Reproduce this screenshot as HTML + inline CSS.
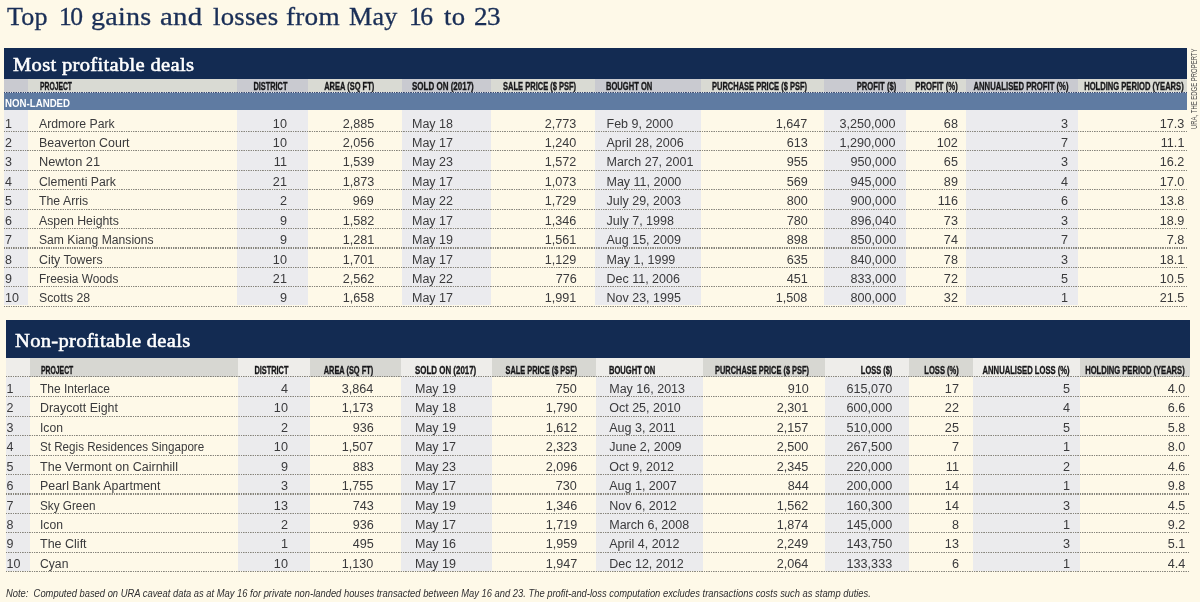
<!DOCTYPE html><html><head><meta charset="utf-8"><title>Top 10 gains and losses</title><style>
html,body{margin:0;padding:0}body{width:1200px;height:602px;position:relative;overflow:hidden;background:#fef9e8;font-family:"Liberation Sans",sans-serif}
.ttl{-webkit-text-stroke:0.3px #1a2f57}.bt{-webkit-text-stroke:0.55px #fff}.wrap{position:absolute;left:0;top:0;width:1200px;height:602px;will-change:transform}.hd{-webkit-text-stroke:0.35px #1b1b1d}.r{position:absolute}.t{position:absolute;white-space:pre;height:30px;}.st{display:inline-block;height:30px;width:0;vertical-align:baseline}
</style></head><body><div class="wrap">
<div class="t ttl" style="left:7.199999999999999px;top:-5.10px;font:normal normal 24.2px/1 'Liberation Serif',serif;color:#1a2f57;transform:scaleX(1.0772);transform-origin:left bottom;letter-spacing:0.2px;"><span class="st"></span>Top</div>
<div class="t ttl" style="left:58.6px;top:-5.10px;font:normal normal 24.2px/1 'Liberation Serif',serif;color:#1a2f57;transform:scaleX(1.0572);transform-origin:left bottom;letter-spacing:-1.5px;"><span class="st"></span>10</div>
<div class="t ttl" style="left:90.6px;top:-5.10px;font:normal normal 24.2px/1 'Liberation Serif',serif;color:#1a2f57;transform:scaleX(1.1582);transform-origin:left bottom;letter-spacing:0.2px;"><span class="st"></span>gains</div>
<div class="t ttl" style="left:159.5px;top:-5.10px;font:normal normal 24.2px/1 'Liberation Serif',serif;color:#1a2f57;transform:scaleX(1.1905);transform-origin:left bottom;letter-spacing:0.2px;"><span class="st"></span>and</div>
<div class="t ttl" style="left:213.0px;top:-5.10px;font:normal normal 24.2px/1 'Liberation Serif',serif;color:#1a2f57;transform:scaleX(1.1085);transform-origin:left bottom;letter-spacing:0.2px;"><span class="st"></span>losses</div>
<div class="t ttl" style="left:286.40000000000003px;top:-5.10px;font:normal normal 24.2px/1 'Liberation Serif',serif;color:#1a2f57;transform:scaleX(1.1249);transform-origin:left bottom;letter-spacing:0.2px;"><span class="st"></span>from</div>
<div class="t ttl" style="left:349.3px;top:-5.10px;font:normal normal 24.2px/1 'Liberation Serif',serif;color:#1a2f57;transform:scaleX(1.0771);transform-origin:left bottom;letter-spacing:0.2px;"><span class="st"></span>May</div>
<div class="t ttl" style="left:409.3px;top:-5.10px;font:normal normal 24.2px/1 'Liberation Serif',serif;color:#1a2f57;transform:scaleX(1.0572);transform-origin:left bottom;letter-spacing:-1.5px;"><span class="st"></span>16</div>
<div class="t ttl" style="left:443.6px;top:-5.10px;font:normal normal 24.2px/1 'Liberation Serif',serif;color:#1a2f57;transform:scaleX(1.1031);transform-origin:left bottom;letter-spacing:0.2px;"><span class="st"></span>to</div>
<div class="t ttl" style="left:473.90000000000003px;top:-5.10px;font:normal normal 24.2px/1 'Liberation Serif',serif;color:#1a2f57;transform:scaleX(1.1213);transform-origin:left bottom;letter-spacing:-0.5px;"><span class="st"></span>23</div>
<div class="r" style="left:4.00px;top:47.80px;width:1182.50px;height:30.80px;background:#132b52;"></div>
<div class="t bt" style="left:13.4px;top:40.50px;font:normal normal 19.6px/1 'Liberation Serif',serif;color:#ffffff;transform:scaleX(1.0491);transform-origin:left bottom;letter-spacing:0.3px;"><span class="st"></span>Most profitable deals</div>
<div class="r" style="left:4.00px;top:78.60px;width:1182.50px;height:14.20px;background:#d9dad3;"></div>
<div class="r" style="left:4.00px;top:78.60px;width:24.00px;height:14.20px;background:#c9cad0;"></div>
<div class="r" style="left:4.00px;top:109.60px;width:24.00px;height:195.48px;background:#ebebee;"></div>
<div class="r" style="left:237.00px;top:78.60px;width:71.30px;height:14.20px;background:#c9cad0;"></div>
<div class="r" style="left:237.00px;top:109.60px;width:71.30px;height:195.48px;background:#ebebee;"></div>
<div class="r" style="left:401.70px;top:78.60px;width:89.30px;height:14.20px;background:#c9cad0;"></div>
<div class="r" style="left:401.70px;top:109.60px;width:89.30px;height:195.48px;background:#ebebee;"></div>
<div class="r" style="left:595.00px;top:78.60px;width:106.00px;height:14.20px;background:#c9cad0;"></div>
<div class="r" style="left:595.00px;top:109.60px;width:106.00px;height:195.48px;background:#ebebee;"></div>
<div class="r" style="left:824.00px;top:78.60px;width:82.00px;height:14.20px;background:#c9cad0;"></div>
<div class="r" style="left:824.00px;top:109.60px;width:82.00px;height:195.48px;background:#ebebee;"></div>
<div class="r" style="left:965.50px;top:78.60px;width:112.50px;height:14.20px;background:#c9cad0;"></div>
<div class="r" style="left:965.50px;top:109.60px;width:112.50px;height:195.48px;background:#ebebee;"></div>
<div class="r" style="left:4.00px;top:92.80px;width:1182.50px;height:16.80px;background:#5f7ba2;"></div>
<div class="r" style="left:4.00px;top:92.10px;width:1182.50px;height:1.1px;background-color:#dfe3ea;background-image:repeating-linear-gradient(to right,#33436a 0,#33436a 0.9px,transparent 1.4px,transparent 1.95px,#33436a 2.35px);"></div>
<div class="t " style="left:4.8px;top:77.00px;font:normal bold 11px/1 'Liberation Sans',sans-serif;color:#ffffff;transform:scaleX(0.88);transform-origin:left bottom;"><span class="st"></span>NON-LANDED</div>
<div class="t hd" style="left:39.5px;top:59.80px;font:normal bold 10.5px/1 'Liberation Sans',sans-serif;color:#161618;transform:scaleX(0.6452);transform-origin:left bottom;"><span class="st"></span>PROJECT</div>
<div class="t hd" style="right:913px;top:59.80px;font:normal bold 10.5px/1 'Liberation Sans',sans-serif;color:#161618;transform:scaleX(0.7022);transform-origin:right bottom;"><span class="st"></span>DISTRICT</div>
<div class="t hd" style="right:826px;top:59.80px;font:normal bold 10.5px/1 'Liberation Sans',sans-serif;color:#161618;transform:scaleX(0.7122);transform-origin:right bottom;"><span class="st"></span>AREA (SQ FT)</div>
<div class="t hd" style="left:412px;top:59.80px;font:normal bold 10.5px/1 'Liberation Sans',sans-serif;color:#161618;transform:scaleX(0.7613);transform-origin:left bottom;"><span class="st"></span>SOLD ON (2017)</div>
<div class="t hd" style="right:623.5px;top:59.80px;font:normal bold 10.5px/1 'Liberation Sans',sans-serif;color:#161618;transform:scaleX(0.7149);transform-origin:right bottom;"><span class="st"></span>SALE PRICE ($ PSF)</div>
<div class="t hd" style="left:606px;top:59.80px;font:normal bold 10.5px/1 'Liberation Sans',sans-serif;color:#161618;transform:scaleX(0.7207);transform-origin:left bottom;"><span class="st"></span>BOUGHT ON</div>
<div class="t hd" style="right:392.5px;top:59.80px;font:normal bold 10.5px/1 'Liberation Sans',sans-serif;color:#161618;transform:scaleX(0.7141);transform-origin:right bottom;"><span class="st"></span>PURCHASE PRICE ($ PSF)</div>
<div class="t hd" style="right:304px;top:59.80px;font:normal bold 10.5px/1 'Liberation Sans',sans-serif;color:#161618;transform:scaleX(0.7281);transform-origin:right bottom;"><span class="st"></span>PROFIT ($)</div>
<div class="t hd" style="right:242px;top:59.80px;font:normal bold 10.5px/1 'Liberation Sans',sans-serif;color:#161618;transform:scaleX(0.7359);transform-origin:right bottom;"><span class="st"></span>PROFIT (%)</div>
<div class="t hd" style="right:132px;top:59.80px;font:normal bold 10.5px/1 'Liberation Sans',sans-serif;color:#161618;transform:scaleX(0.7336);transform-origin:right bottom;"><span class="st"></span>ANNUALISED PROFIT (%)</div>
<div class="t hd" style="right:16px;top:59.80px;font:normal bold 10.5px/1 'Liberation Sans',sans-serif;color:#161618;transform:scaleX(0.7227);transform-origin:right bottom;"><span class="st"></span>HOLDING PERIOD (YEARS)</div>
<div class="r" style="left:4.00px;top:130.90px;width:1182.50px;height:1.1px;background-color:transparent;background-image:repeating-linear-gradient(to right,#85837a 0,#85837a 0.9px,transparent 1.4px,transparent 1.95px,#85837a 2.35px);"></div>
<div class="t " style="left:5px;top:97.60px;font:normal normal 12.5px/1 'Liberation Sans',sans-serif;color:#3a3a3c;"><span class="st"></span>1</div>
<div class="t " style="left:38.7px;top:97.60px;font:normal normal 12.5px/1 'Liberation Sans',sans-serif;color:#3a3a3c;transform:scaleX(0.9817);transform-origin:left bottom;"><span class="st"></span>Ardmore Park</div>
<div class="t " style="right:913px;top:97.60px;font:normal normal 12.5px/1 'Liberation Sans',sans-serif;color:#3a3a3c;transform:scaleX(1.01);transform-origin:right bottom;"><span class="st"></span>10</div>
<div class="t " style="right:826px;top:97.60px;font:normal normal 12.5px/1 'Liberation Sans',sans-serif;color:#3a3a3c;transform:scaleX(1.01);transform-origin:right bottom;"><span class="st"></span>2,885</div>
<div class="t " style="left:412px;top:97.60px;font:normal normal 12.5px/1 'Liberation Sans',sans-serif;color:#3a3a3c;"><span class="st"></span>May 18</div>
<div class="t " style="right:623.5px;top:97.60px;font:normal normal 12.5px/1 'Liberation Sans',sans-serif;color:#3a3a3c;transform:scaleX(1.01);transform-origin:right bottom;"><span class="st"></span>2,773</div>
<div class="t " style="left:606.5px;top:97.60px;font:normal normal 12.5px/1 'Liberation Sans',sans-serif;color:#3a3a3c;"><span class="st"></span>Feb 9, 2000</div>
<div class="t " style="right:392.5px;top:97.60px;font:normal normal 12.5px/1 'Liberation Sans',sans-serif;color:#3a3a3c;transform:scaleX(1.01);transform-origin:right bottom;"><span class="st"></span>1,647</div>
<div class="t " style="right:304px;top:97.60px;font:normal normal 12.5px/1 'Liberation Sans',sans-serif;color:#3a3a3c;transform:scaleX(1.01);transform-origin:right bottom;"><span class="st"></span>3,250,000</div>
<div class="t " style="right:242px;top:97.60px;font:normal normal 12.5px/1 'Liberation Sans',sans-serif;color:#3a3a3c;transform:scaleX(1.01);transform-origin:right bottom;"><span class="st"></span>68</div>
<div class="t " style="right:132px;top:97.60px;font:normal normal 12.5px/1 'Liberation Sans',sans-serif;color:#3a3a3c;transform:scaleX(1.01);transform-origin:right bottom;"><span class="st"></span>3</div>
<div class="t " style="right:16px;top:97.60px;font:normal normal 12.5px/1 'Liberation Sans',sans-serif;color:#3a3a3c;transform:scaleX(1.01);transform-origin:right bottom;"><span class="st"></span>17.3</div>
<div class="r" style="left:4.00px;top:150.32px;width:1182.50px;height:1.1px;background-color:transparent;background-image:repeating-linear-gradient(to right,#85837a 0,#85837a 0.9px,transparent 1.4px,transparent 1.95px,#85837a 2.35px);"></div>
<div class="t " style="left:5px;top:117.02px;font:normal normal 12.5px/1 'Liberation Sans',sans-serif;color:#3a3a3c;"><span class="st"></span>2</div>
<div class="t " style="left:38.7px;top:117.02px;font:normal normal 12.5px/1 'Liberation Sans',sans-serif;color:#3a3a3c;transform:scaleX(0.9942);transform-origin:left bottom;"><span class="st"></span>Beaverton Court</div>
<div class="t " style="right:913px;top:117.02px;font:normal normal 12.5px/1 'Liberation Sans',sans-serif;color:#3a3a3c;transform:scaleX(1.01);transform-origin:right bottom;"><span class="st"></span>10</div>
<div class="t " style="right:826px;top:117.02px;font:normal normal 12.5px/1 'Liberation Sans',sans-serif;color:#3a3a3c;transform:scaleX(1.01);transform-origin:right bottom;"><span class="st"></span>2,056</div>
<div class="t " style="left:412px;top:117.02px;font:normal normal 12.5px/1 'Liberation Sans',sans-serif;color:#3a3a3c;"><span class="st"></span>May 17</div>
<div class="t " style="right:623.5px;top:117.02px;font:normal normal 12.5px/1 'Liberation Sans',sans-serif;color:#3a3a3c;transform:scaleX(1.01);transform-origin:right bottom;"><span class="st"></span>1,240</div>
<div class="t " style="left:606.5px;top:117.02px;font:normal normal 12.5px/1 'Liberation Sans',sans-serif;color:#3a3a3c;"><span class="st"></span>April 28, 2006</div>
<div class="t " style="right:392.5px;top:117.02px;font:normal normal 12.5px/1 'Liberation Sans',sans-serif;color:#3a3a3c;transform:scaleX(1.01);transform-origin:right bottom;"><span class="st"></span>613</div>
<div class="t " style="right:304px;top:117.02px;font:normal normal 12.5px/1 'Liberation Sans',sans-serif;color:#3a3a3c;transform:scaleX(1.01);transform-origin:right bottom;"><span class="st"></span>1,290,000</div>
<div class="t " style="right:242px;top:117.02px;font:normal normal 12.5px/1 'Liberation Sans',sans-serif;color:#3a3a3c;transform:scaleX(1.01);transform-origin:right bottom;"><span class="st"></span>102</div>
<div class="t " style="right:132px;top:117.02px;font:normal normal 12.5px/1 'Liberation Sans',sans-serif;color:#3a3a3c;transform:scaleX(1.01);transform-origin:right bottom;"><span class="st"></span>7</div>
<div class="t " style="right:16px;top:117.02px;font:normal normal 12.5px/1 'Liberation Sans',sans-serif;color:#3a3a3c;transform:scaleX(1.01);transform-origin:right bottom;"><span class="st"></span>11.1</div>
<div class="r" style="left:4.00px;top:169.74px;width:1182.50px;height:1.1px;background-color:transparent;background-image:repeating-linear-gradient(to right,#85837a 0,#85837a 0.9px,transparent 1.4px,transparent 1.95px,#85837a 2.35px);"></div>
<div class="t " style="left:5px;top:136.44px;font:normal normal 12.5px/1 'Liberation Sans',sans-serif;color:#3a3a3c;"><span class="st"></span>3</div>
<div class="t " style="left:38.7px;top:136.44px;font:normal normal 12.5px/1 'Liberation Sans',sans-serif;color:#3a3a3c;transform:scaleX(1.0207);transform-origin:left bottom;"><span class="st"></span>Newton 21</div>
<div class="t " style="right:913px;top:136.44px;font:normal normal 12.5px/1 'Liberation Sans',sans-serif;color:#3a3a3c;transform:scaleX(1.01);transform-origin:right bottom;"><span class="st"></span>11</div>
<div class="t " style="right:826px;top:136.44px;font:normal normal 12.5px/1 'Liberation Sans',sans-serif;color:#3a3a3c;transform:scaleX(1.01);transform-origin:right bottom;"><span class="st"></span>1,539</div>
<div class="t " style="left:412px;top:136.44px;font:normal normal 12.5px/1 'Liberation Sans',sans-serif;color:#3a3a3c;"><span class="st"></span>May 23</div>
<div class="t " style="right:623.5px;top:136.44px;font:normal normal 12.5px/1 'Liberation Sans',sans-serif;color:#3a3a3c;transform:scaleX(1.01);transform-origin:right bottom;"><span class="st"></span>1,572</div>
<div class="t " style="left:606.5px;top:136.44px;font:normal normal 12.5px/1 'Liberation Sans',sans-serif;color:#3a3a3c;"><span class="st"></span>March 27, 2001</div>
<div class="t " style="right:392.5px;top:136.44px;font:normal normal 12.5px/1 'Liberation Sans',sans-serif;color:#3a3a3c;transform:scaleX(1.01);transform-origin:right bottom;"><span class="st"></span>955</div>
<div class="t " style="right:304px;top:136.44px;font:normal normal 12.5px/1 'Liberation Sans',sans-serif;color:#3a3a3c;transform:scaleX(1.01);transform-origin:right bottom;"><span class="st"></span>950,000</div>
<div class="t " style="right:242px;top:136.44px;font:normal normal 12.5px/1 'Liberation Sans',sans-serif;color:#3a3a3c;transform:scaleX(1.01);transform-origin:right bottom;"><span class="st"></span>65</div>
<div class="t " style="right:132px;top:136.44px;font:normal normal 12.5px/1 'Liberation Sans',sans-serif;color:#3a3a3c;transform:scaleX(1.01);transform-origin:right bottom;"><span class="st"></span>3</div>
<div class="t " style="right:16px;top:136.44px;font:normal normal 12.5px/1 'Liberation Sans',sans-serif;color:#3a3a3c;transform:scaleX(1.01);transform-origin:right bottom;"><span class="st"></span>16.2</div>
<div class="r" style="left:4.00px;top:189.16px;width:1182.50px;height:1.1px;background-color:transparent;background-image:repeating-linear-gradient(to right,#85837a 0,#85837a 0.9px,transparent 1.4px,transparent 1.95px,#85837a 2.35px);"></div>
<div class="t " style="left:5px;top:155.86px;font:normal normal 12.5px/1 'Liberation Sans',sans-serif;color:#3a3a3c;"><span class="st"></span>4</div>
<div class="t " style="left:38.7px;top:155.86px;font:normal normal 12.5px/1 'Liberation Sans',sans-serif;color:#3a3a3c;transform:scaleX(0.9803);transform-origin:left bottom;"><span class="st"></span>Clementi Park</div>
<div class="t " style="right:913px;top:155.86px;font:normal normal 12.5px/1 'Liberation Sans',sans-serif;color:#3a3a3c;transform:scaleX(1.01);transform-origin:right bottom;"><span class="st"></span>21</div>
<div class="t " style="right:826px;top:155.86px;font:normal normal 12.5px/1 'Liberation Sans',sans-serif;color:#3a3a3c;transform:scaleX(1.01);transform-origin:right bottom;"><span class="st"></span>1,873</div>
<div class="t " style="left:412px;top:155.86px;font:normal normal 12.5px/1 'Liberation Sans',sans-serif;color:#3a3a3c;"><span class="st"></span>May 17</div>
<div class="t " style="right:623.5px;top:155.86px;font:normal normal 12.5px/1 'Liberation Sans',sans-serif;color:#3a3a3c;transform:scaleX(1.01);transform-origin:right bottom;"><span class="st"></span>1,073</div>
<div class="t " style="left:606.5px;top:155.86px;font:normal normal 12.5px/1 'Liberation Sans',sans-serif;color:#3a3a3c;"><span class="st"></span>May 11, 2000</div>
<div class="t " style="right:392.5px;top:155.86px;font:normal normal 12.5px/1 'Liberation Sans',sans-serif;color:#3a3a3c;transform:scaleX(1.01);transform-origin:right bottom;"><span class="st"></span>569</div>
<div class="t " style="right:304px;top:155.86px;font:normal normal 12.5px/1 'Liberation Sans',sans-serif;color:#3a3a3c;transform:scaleX(1.01);transform-origin:right bottom;"><span class="st"></span>945,000</div>
<div class="t " style="right:242px;top:155.86px;font:normal normal 12.5px/1 'Liberation Sans',sans-serif;color:#3a3a3c;transform:scaleX(1.01);transform-origin:right bottom;"><span class="st"></span>89</div>
<div class="t " style="right:132px;top:155.86px;font:normal normal 12.5px/1 'Liberation Sans',sans-serif;color:#3a3a3c;transform:scaleX(1.01);transform-origin:right bottom;"><span class="st"></span>4</div>
<div class="t " style="right:16px;top:155.86px;font:normal normal 12.5px/1 'Liberation Sans',sans-serif;color:#3a3a3c;transform:scaleX(1.01);transform-origin:right bottom;"><span class="st"></span>17.0</div>
<div class="r" style="left:4.00px;top:208.58px;width:1182.50px;height:1.1px;background-color:transparent;background-image:repeating-linear-gradient(to right,#85837a 0,#85837a 0.9px,transparent 1.4px,transparent 1.95px,#85837a 2.35px);"></div>
<div class="t " style="left:5px;top:175.28px;font:normal normal 12.5px/1 'Liberation Sans',sans-serif;color:#3a3a3c;"><span class="st"></span>5</div>
<div class="t " style="left:38.7px;top:175.28px;font:normal normal 12.5px/1 'Liberation Sans',sans-serif;color:#3a3a3c;transform:scaleX(0.9837);transform-origin:left bottom;"><span class="st"></span>The Arris</div>
<div class="t " style="right:913px;top:175.28px;font:normal normal 12.5px/1 'Liberation Sans',sans-serif;color:#3a3a3c;transform:scaleX(1.01);transform-origin:right bottom;"><span class="st"></span>2</div>
<div class="t " style="right:826px;top:175.28px;font:normal normal 12.5px/1 'Liberation Sans',sans-serif;color:#3a3a3c;transform:scaleX(1.01);transform-origin:right bottom;"><span class="st"></span>969</div>
<div class="t " style="left:412px;top:175.28px;font:normal normal 12.5px/1 'Liberation Sans',sans-serif;color:#3a3a3c;"><span class="st"></span>May 22</div>
<div class="t " style="right:623.5px;top:175.28px;font:normal normal 12.5px/1 'Liberation Sans',sans-serif;color:#3a3a3c;transform:scaleX(1.01);transform-origin:right bottom;"><span class="st"></span>1,729</div>
<div class="t " style="left:606.5px;top:175.28px;font:normal normal 12.5px/1 'Liberation Sans',sans-serif;color:#3a3a3c;"><span class="st"></span>July 29, 2003</div>
<div class="t " style="right:392.5px;top:175.28px;font:normal normal 12.5px/1 'Liberation Sans',sans-serif;color:#3a3a3c;transform:scaleX(1.01);transform-origin:right bottom;"><span class="st"></span>800</div>
<div class="t " style="right:304px;top:175.28px;font:normal normal 12.5px/1 'Liberation Sans',sans-serif;color:#3a3a3c;transform:scaleX(1.01);transform-origin:right bottom;"><span class="st"></span>900,000</div>
<div class="t " style="right:242px;top:175.28px;font:normal normal 12.5px/1 'Liberation Sans',sans-serif;color:#3a3a3c;transform:scaleX(1.01);transform-origin:right bottom;"><span class="st"></span>116</div>
<div class="t " style="right:132px;top:175.28px;font:normal normal 12.5px/1 'Liberation Sans',sans-serif;color:#3a3a3c;transform:scaleX(1.01);transform-origin:right bottom;"><span class="st"></span>6</div>
<div class="t " style="right:16px;top:175.28px;font:normal normal 12.5px/1 'Liberation Sans',sans-serif;color:#3a3a3c;transform:scaleX(1.01);transform-origin:right bottom;"><span class="st"></span>13.8</div>
<div class="r" style="left:4.00px;top:228.00px;width:1182.50px;height:1.1px;background-color:transparent;background-image:repeating-linear-gradient(to right,#85837a 0,#85837a 0.9px,transparent 1.4px,transparent 1.95px,#85837a 2.35px);"></div>
<div class="t " style="left:5px;top:194.70px;font:normal normal 12.5px/1 'Liberation Sans',sans-serif;color:#3a3a3c;"><span class="st"></span>6</div>
<div class="t " style="left:38.7px;top:194.70px;font:normal normal 12.5px/1 'Liberation Sans',sans-serif;color:#3a3a3c;transform:scaleX(0.9826);transform-origin:left bottom;"><span class="st"></span>Aspen Heights</div>
<div class="t " style="right:913px;top:194.70px;font:normal normal 12.5px/1 'Liberation Sans',sans-serif;color:#3a3a3c;transform:scaleX(1.01);transform-origin:right bottom;"><span class="st"></span>9</div>
<div class="t " style="right:826px;top:194.70px;font:normal normal 12.5px/1 'Liberation Sans',sans-serif;color:#3a3a3c;transform:scaleX(1.01);transform-origin:right bottom;"><span class="st"></span>1,582</div>
<div class="t " style="left:412px;top:194.70px;font:normal normal 12.5px/1 'Liberation Sans',sans-serif;color:#3a3a3c;"><span class="st"></span>May 17</div>
<div class="t " style="right:623.5px;top:194.70px;font:normal normal 12.5px/1 'Liberation Sans',sans-serif;color:#3a3a3c;transform:scaleX(1.01);transform-origin:right bottom;"><span class="st"></span>1,346</div>
<div class="t " style="left:606.5px;top:194.70px;font:normal normal 12.5px/1 'Liberation Sans',sans-serif;color:#3a3a3c;"><span class="st"></span>July 7, 1998</div>
<div class="t " style="right:392.5px;top:194.70px;font:normal normal 12.5px/1 'Liberation Sans',sans-serif;color:#3a3a3c;transform:scaleX(1.01);transform-origin:right bottom;"><span class="st"></span>780</div>
<div class="t " style="right:304px;top:194.70px;font:normal normal 12.5px/1 'Liberation Sans',sans-serif;color:#3a3a3c;transform:scaleX(1.01);transform-origin:right bottom;"><span class="st"></span>896,040</div>
<div class="t " style="right:242px;top:194.70px;font:normal normal 12.5px/1 'Liberation Sans',sans-serif;color:#3a3a3c;transform:scaleX(1.01);transform-origin:right bottom;"><span class="st"></span>73</div>
<div class="t " style="right:132px;top:194.70px;font:normal normal 12.5px/1 'Liberation Sans',sans-serif;color:#3a3a3c;transform:scaleX(1.01);transform-origin:right bottom;"><span class="st"></span>3</div>
<div class="t " style="right:16px;top:194.70px;font:normal normal 12.5px/1 'Liberation Sans',sans-serif;color:#3a3a3c;transform:scaleX(1.01);transform-origin:right bottom;"><span class="st"></span>18.9</div>
<div class="r" style="left:4.00px;top:247.42px;width:1182.50px;height:1.1px;background-color:transparent;background-image:repeating-linear-gradient(to right,#85837a 0,#85837a 0.9px,transparent 1.4px,transparent 1.95px,#85837a 2.35px);"></div>
<div class="t " style="left:5px;top:214.12px;font:normal normal 12.5px/1 'Liberation Sans',sans-serif;color:#3a3a3c;"><span class="st"></span>7</div>
<div class="t " style="left:38.7px;top:214.12px;font:normal normal 12.5px/1 'Liberation Sans',sans-serif;color:#3a3a3c;transform:scaleX(0.971);transform-origin:left bottom;"><span class="st"></span>Sam Kiang Mansions</div>
<div class="t " style="right:913px;top:214.12px;font:normal normal 12.5px/1 'Liberation Sans',sans-serif;color:#3a3a3c;transform:scaleX(1.01);transform-origin:right bottom;"><span class="st"></span>9</div>
<div class="t " style="right:826px;top:214.12px;font:normal normal 12.5px/1 'Liberation Sans',sans-serif;color:#3a3a3c;transform:scaleX(1.01);transform-origin:right bottom;"><span class="st"></span>1,281</div>
<div class="t " style="left:412px;top:214.12px;font:normal normal 12.5px/1 'Liberation Sans',sans-serif;color:#3a3a3c;"><span class="st"></span>May 19</div>
<div class="t " style="right:623.5px;top:214.12px;font:normal normal 12.5px/1 'Liberation Sans',sans-serif;color:#3a3a3c;transform:scaleX(1.01);transform-origin:right bottom;"><span class="st"></span>1,561</div>
<div class="t " style="left:606.5px;top:214.12px;font:normal normal 12.5px/1 'Liberation Sans',sans-serif;color:#3a3a3c;"><span class="st"></span>Aug 15, 2009</div>
<div class="t " style="right:392.5px;top:214.12px;font:normal normal 12.5px/1 'Liberation Sans',sans-serif;color:#3a3a3c;transform:scaleX(1.01);transform-origin:right bottom;"><span class="st"></span>898</div>
<div class="t " style="right:304px;top:214.12px;font:normal normal 12.5px/1 'Liberation Sans',sans-serif;color:#3a3a3c;transform:scaleX(1.01);transform-origin:right bottom;"><span class="st"></span>850,000</div>
<div class="t " style="right:242px;top:214.12px;font:normal normal 12.5px/1 'Liberation Sans',sans-serif;color:#3a3a3c;transform:scaleX(1.01);transform-origin:right bottom;"><span class="st"></span>74</div>
<div class="t " style="right:132px;top:214.12px;font:normal normal 12.5px/1 'Liberation Sans',sans-serif;color:#3a3a3c;transform:scaleX(1.01);transform-origin:right bottom;"><span class="st"></span>7</div>
<div class="t " style="right:16px;top:214.12px;font:normal normal 12.5px/1 'Liberation Sans',sans-serif;color:#3a3a3c;transform:scaleX(1.01);transform-origin:right bottom;"><span class="st"></span>7.8</div>
<div class="r" style="left:4.00px;top:266.84px;width:1182.50px;height:1.1px;background-color:transparent;background-image:repeating-linear-gradient(to right,#85837a 0,#85837a 0.9px,transparent 1.4px,transparent 1.95px,#85837a 2.35px);"></div>
<div class="t " style="left:5px;top:233.54px;font:normal normal 12.5px/1 'Liberation Sans',sans-serif;color:#3a3a3c;"><span class="st"></span>8</div>
<div class="t " style="left:38.7px;top:233.54px;font:normal normal 12.5px/1 'Liberation Sans',sans-serif;color:#3a3a3c;transform:scaleX(0.988);transform-origin:left bottom;"><span class="st"></span>City Towers</div>
<div class="t " style="right:913px;top:233.54px;font:normal normal 12.5px/1 'Liberation Sans',sans-serif;color:#3a3a3c;transform:scaleX(1.01);transform-origin:right bottom;"><span class="st"></span>10</div>
<div class="t " style="right:826px;top:233.54px;font:normal normal 12.5px/1 'Liberation Sans',sans-serif;color:#3a3a3c;transform:scaleX(1.01);transform-origin:right bottom;"><span class="st"></span>1,701</div>
<div class="t " style="left:412px;top:233.54px;font:normal normal 12.5px/1 'Liberation Sans',sans-serif;color:#3a3a3c;"><span class="st"></span>May 17</div>
<div class="t " style="right:623.5px;top:233.54px;font:normal normal 12.5px/1 'Liberation Sans',sans-serif;color:#3a3a3c;transform:scaleX(1.01);transform-origin:right bottom;"><span class="st"></span>1,129</div>
<div class="t " style="left:606.5px;top:233.54px;font:normal normal 12.5px/1 'Liberation Sans',sans-serif;color:#3a3a3c;"><span class="st"></span>May 1, 1999</div>
<div class="t " style="right:392.5px;top:233.54px;font:normal normal 12.5px/1 'Liberation Sans',sans-serif;color:#3a3a3c;transform:scaleX(1.01);transform-origin:right bottom;"><span class="st"></span>635</div>
<div class="t " style="right:304px;top:233.54px;font:normal normal 12.5px/1 'Liberation Sans',sans-serif;color:#3a3a3c;transform:scaleX(1.01);transform-origin:right bottom;"><span class="st"></span>840,000</div>
<div class="t " style="right:242px;top:233.54px;font:normal normal 12.5px/1 'Liberation Sans',sans-serif;color:#3a3a3c;transform:scaleX(1.01);transform-origin:right bottom;"><span class="st"></span>78</div>
<div class="t " style="right:132px;top:233.54px;font:normal normal 12.5px/1 'Liberation Sans',sans-serif;color:#3a3a3c;transform:scaleX(1.01);transform-origin:right bottom;"><span class="st"></span>3</div>
<div class="t " style="right:16px;top:233.54px;font:normal normal 12.5px/1 'Liberation Sans',sans-serif;color:#3a3a3c;transform:scaleX(1.01);transform-origin:right bottom;"><span class="st"></span>18.1</div>
<div class="r" style="left:4.00px;top:286.26px;width:1182.50px;height:1.1px;background-color:transparent;background-image:repeating-linear-gradient(to right,#85837a 0,#85837a 0.9px,transparent 1.4px,transparent 1.95px,#85837a 2.35px);"></div>
<div class="t " style="left:5px;top:252.96px;font:normal normal 12.5px/1 'Liberation Sans',sans-serif;color:#3a3a3c;"><span class="st"></span>9</div>
<div class="t " style="left:38.7px;top:252.96px;font:normal normal 12.5px/1 'Liberation Sans',sans-serif;color:#3a3a3c;transform:scaleX(0.9458);transform-origin:left bottom;"><span class="st"></span>Freesia Woods</div>
<div class="t " style="right:913px;top:252.96px;font:normal normal 12.5px/1 'Liberation Sans',sans-serif;color:#3a3a3c;transform:scaleX(1.01);transform-origin:right bottom;"><span class="st"></span>21</div>
<div class="t " style="right:826px;top:252.96px;font:normal normal 12.5px/1 'Liberation Sans',sans-serif;color:#3a3a3c;transform:scaleX(1.01);transform-origin:right bottom;"><span class="st"></span>2,562</div>
<div class="t " style="left:412px;top:252.96px;font:normal normal 12.5px/1 'Liberation Sans',sans-serif;color:#3a3a3c;"><span class="st"></span>May 22</div>
<div class="t " style="right:623.5px;top:252.96px;font:normal normal 12.5px/1 'Liberation Sans',sans-serif;color:#3a3a3c;transform:scaleX(1.01);transform-origin:right bottom;"><span class="st"></span>776</div>
<div class="t " style="left:606.5px;top:252.96px;font:normal normal 12.5px/1 'Liberation Sans',sans-serif;color:#3a3a3c;"><span class="st"></span>Dec 11, 2006</div>
<div class="t " style="right:392.5px;top:252.96px;font:normal normal 12.5px/1 'Liberation Sans',sans-serif;color:#3a3a3c;transform:scaleX(1.01);transform-origin:right bottom;"><span class="st"></span>451</div>
<div class="t " style="right:304px;top:252.96px;font:normal normal 12.5px/1 'Liberation Sans',sans-serif;color:#3a3a3c;transform:scaleX(1.01);transform-origin:right bottom;"><span class="st"></span>833,000</div>
<div class="t " style="right:242px;top:252.96px;font:normal normal 12.5px/1 'Liberation Sans',sans-serif;color:#3a3a3c;transform:scaleX(1.01);transform-origin:right bottom;"><span class="st"></span>72</div>
<div class="t " style="right:132px;top:252.96px;font:normal normal 12.5px/1 'Liberation Sans',sans-serif;color:#3a3a3c;transform:scaleX(1.01);transform-origin:right bottom;"><span class="st"></span>5</div>
<div class="t " style="right:16px;top:252.96px;font:normal normal 12.5px/1 'Liberation Sans',sans-serif;color:#3a3a3c;transform:scaleX(1.01);transform-origin:right bottom;"><span class="st"></span>10.5</div>
<div class="r" style="left:4.00px;top:305.68px;width:1182.50px;height:1.1px;background-color:transparent;background-image:repeating-linear-gradient(to right,#85837a 0,#85837a 0.9px,transparent 1.4px,transparent 1.95px,#85837a 2.35px);"></div>
<div class="t " style="left:5px;top:272.38px;font:normal normal 12.5px/1 'Liberation Sans',sans-serif;color:#3a3a3c;"><span class="st"></span>10</div>
<div class="t " style="left:38.7px;top:272.38px;font:normal normal 12.5px/1 'Liberation Sans',sans-serif;color:#3a3a3c;transform:scaleX(0.9823);transform-origin:left bottom;"><span class="st"></span>Scotts 28</div>
<div class="t " style="right:913px;top:272.38px;font:normal normal 12.5px/1 'Liberation Sans',sans-serif;color:#3a3a3c;transform:scaleX(1.01);transform-origin:right bottom;"><span class="st"></span>9</div>
<div class="t " style="right:826px;top:272.38px;font:normal normal 12.5px/1 'Liberation Sans',sans-serif;color:#3a3a3c;transform:scaleX(1.01);transform-origin:right bottom;"><span class="st"></span>1,658</div>
<div class="t " style="left:412px;top:272.38px;font:normal normal 12.5px/1 'Liberation Sans',sans-serif;color:#3a3a3c;"><span class="st"></span>May 17</div>
<div class="t " style="right:623.5px;top:272.38px;font:normal normal 12.5px/1 'Liberation Sans',sans-serif;color:#3a3a3c;transform:scaleX(1.01);transform-origin:right bottom;"><span class="st"></span>1,991</div>
<div class="t " style="left:606.5px;top:272.38px;font:normal normal 12.5px/1 'Liberation Sans',sans-serif;color:#3a3a3c;"><span class="st"></span>Nov 23, 1995</div>
<div class="t " style="right:392.5px;top:272.38px;font:normal normal 12.5px/1 'Liberation Sans',sans-serif;color:#3a3a3c;transform:scaleX(1.01);transform-origin:right bottom;"><span class="st"></span>1,508</div>
<div class="t " style="right:304px;top:272.38px;font:normal normal 12.5px/1 'Liberation Sans',sans-serif;color:#3a3a3c;transform:scaleX(1.01);transform-origin:right bottom;"><span class="st"></span>800,000</div>
<div class="t " style="right:242px;top:272.38px;font:normal normal 12.5px/1 'Liberation Sans',sans-serif;color:#3a3a3c;transform:scaleX(1.01);transform-origin:right bottom;"><span class="st"></span>32</div>
<div class="t " style="right:132px;top:272.38px;font:normal normal 12.5px/1 'Liberation Sans',sans-serif;color:#3a3a3c;transform:scaleX(1.01);transform-origin:right bottom;"><span class="st"></span>1</div>
<div class="t " style="right:16px;top:272.38px;font:normal normal 12.5px/1 'Liberation Sans',sans-serif;color:#3a3a3c;transform:scaleX(1.01);transform-origin:right bottom;"><span class="st"></span>21.5</div>
<div class="t" style="left:1196.8px;top:99px;font:normal 8.5px/1 'Liberation Sans',sans-serif;color:#4a4a4a;transform:rotate(-90deg) scaleX(0.70);transform-origin:left bottom;"><span class="st"></span>URA, THE EDGE PROPERTY</div>
<div class="r" style="left:5.50px;top:320.20px;width:1184.30px;height:38.20px;background:#132b52;"></div>
<div class="t bt" style="left:15.2px;top:316.80px;font:normal normal 19.6px/1 'Liberation Serif',serif;color:#ffffff;transform:scaleX(1.0472);transform-origin:left bottom;letter-spacing:0.3px;"><span class="st"></span>Non-profitable deals</div>
<div class="r" style="left:5.50px;top:358.40px;width:1184.30px;height:18.40px;background:#d7d7d2;"></div>
<div class="r" style="left:5.50px;top:357.90px;width:24.00px;height:18.90px;background:#eeedea;"></div>
<div class="r" style="left:5.50px;top:376.80px;width:24.00px;height:194.01px;background:#ebebed;"></div>
<div class="r" style="left:238.00px;top:357.90px;width:72.00px;height:18.90px;background:#eeedea;"></div>
<div class="r" style="left:238.00px;top:376.80px;width:72.00px;height:194.01px;background:#ebebed;"></div>
<div class="r" style="left:401.30px;top:357.90px;width:90.70px;height:18.90px;background:#eeedea;"></div>
<div class="r" style="left:401.30px;top:376.80px;width:90.70px;height:194.01px;background:#ebebed;"></div>
<div class="r" style="left:595.50px;top:357.90px;width:107.00px;height:18.90px;background:#eeedea;"></div>
<div class="r" style="left:595.50px;top:376.80px;width:107.00px;height:194.01px;background:#ebebed;"></div>
<div class="r" style="left:825.00px;top:357.90px;width:83.75px;height:18.90px;background:#eeedea;"></div>
<div class="r" style="left:825.00px;top:376.80px;width:83.75px;height:194.01px;background:#ebebed;"></div>
<div class="r" style="left:973.00px;top:357.90px;width:106.50px;height:18.90px;background:#eeedea;"></div>
<div class="r" style="left:973.00px;top:376.80px;width:106.50px;height:194.01px;background:#ebebed;"></div>
<div class="r" style="left:5.50px;top:376.20px;width:1184.30px;height:1.1px;background-color:transparent;background-image:repeating-linear-gradient(to right,#85837a 0,#85837a 0.9px,transparent 1.4px,transparent 1.95px,#85837a 2.35px);"></div>
<div class="t hd" style="left:40.75px;top:343.70px;font:normal bold 10.5px/1 'Liberation Sans',sans-serif;color:#161618;transform:scaleX(0.6503);transform-origin:left bottom;"><span class="st"></span>PROJECT</div>
<div class="t hd" style="right:912px;top:343.70px;font:normal bold 10.5px/1 'Liberation Sans',sans-serif;color:#161618;transform:scaleX(0.7022);transform-origin:right bottom;"><span class="st"></span>DISTRICT</div>
<div class="t hd" style="right:826.5px;top:343.70px;font:normal bold 10.5px/1 'Liberation Sans',sans-serif;color:#161618;transform:scaleX(0.7051);transform-origin:right bottom;"><span class="st"></span>AREA (SQ FT)</div>
<div class="t hd" style="left:415px;top:343.70px;font:normal bold 10.5px/1 'Liberation Sans',sans-serif;color:#161618;transform:scaleX(0.7552);transform-origin:left bottom;"><span class="st"></span>SOLD ON (2017)</div>
<div class="t hd" style="right:623px;top:343.70px;font:normal bold 10.5px/1 'Liberation Sans',sans-serif;color:#161618;transform:scaleX(0.7002);transform-origin:right bottom;"><span class="st"></span>SALE PRICE ($ PSF)</div>
<div class="t hd" style="left:608.75px;top:343.70px;font:normal bold 10.5px/1 'Liberation Sans',sans-serif;color:#161618;transform:scaleX(0.7207);transform-origin:left bottom;"><span class="st"></span>BOUGHT ON</div>
<div class="t hd" style="right:391.25px;top:343.70px;font:normal bold 10.5px/1 'Liberation Sans',sans-serif;color:#161618;transform:scaleX(0.7066);transform-origin:right bottom;"><span class="st"></span>PURCHASE PRICE ($ PSF)</div>
<div class="t hd" style="right:307.5px;top:343.70px;font:normal bold 10.5px/1 'Liberation Sans',sans-serif;color:#161618;transform:scaleX(0.7104);transform-origin:right bottom;"><span class="st"></span>LOSS ($)</div>
<div class="t hd" style="right:241.5px;top:343.70px;font:normal bold 10.5px/1 'Liberation Sans',sans-serif;color:#161618;transform:scaleX(0.7211);transform-origin:right bottom;"><span class="st"></span>LOSS (%)</div>
<div class="t hd" style="right:130px;top:343.70px;font:normal bold 10.5px/1 'Liberation Sans',sans-serif;color:#161618;transform:scaleX(0.7275);transform-origin:right bottom;"><span class="st"></span>ANNUALISED LOSS (%)</div>
<div class="t hd" style="right:15px;top:343.70px;font:normal bold 10.5px/1 'Liberation Sans',sans-serif;color:#161618;transform:scaleX(0.7227);transform-origin:right bottom;"><span class="st"></span>HOLDING PERIOD (YEARS)</div>
<div class="r" style="left:5.50px;top:396.25px;width:1184.30px;height:1.1px;background-color:transparent;background-image:repeating-linear-gradient(to right,#85837a 0,#85837a 0.9px,transparent 1.4px,transparent 1.95px,#85837a 2.35px);"></div>
<div class="t " style="left:6.5px;top:362.90px;font:normal normal 12.5px/1 'Liberation Sans',sans-serif;color:#3a3a3c;"><span class="st"></span>1</div>
<div class="t " style="left:39.95px;top:362.90px;font:normal normal 12.5px/1 'Liberation Sans',sans-serif;color:#3a3a3c;transform:scaleX(0.9586);transform-origin:left bottom;"><span class="st"></span>The Interlace</div>
<div class="t " style="right:912px;top:362.90px;font:normal normal 12.5px/1 'Liberation Sans',sans-serif;color:#3a3a3c;transform:scaleX(1.01);transform-origin:right bottom;"><span class="st"></span>4</div>
<div class="t " style="right:826.5px;top:362.90px;font:normal normal 12.5px/1 'Liberation Sans',sans-serif;color:#3a3a3c;transform:scaleX(1.01);transform-origin:right bottom;"><span class="st"></span>3,864</div>
<div class="t " style="left:415px;top:362.90px;font:normal normal 12.5px/1 'Liberation Sans',sans-serif;color:#3a3a3c;"><span class="st"></span>May 19</div>
<div class="t " style="right:623px;top:362.90px;font:normal normal 12.5px/1 'Liberation Sans',sans-serif;color:#3a3a3c;transform:scaleX(1.01);transform-origin:right bottom;"><span class="st"></span>750</div>
<div class="t " style="left:609.25px;top:362.90px;font:normal normal 12.5px/1 'Liberation Sans',sans-serif;color:#3a3a3c;"><span class="st"></span>May 16, 2013</div>
<div class="t " style="right:391.25px;top:362.90px;font:normal normal 12.5px/1 'Liberation Sans',sans-serif;color:#3a3a3c;transform:scaleX(1.01);transform-origin:right bottom;"><span class="st"></span>910</div>
<div class="t " style="right:307.5px;top:362.90px;font:normal normal 12.5px/1 'Liberation Sans',sans-serif;color:#3a3a3c;transform:scaleX(1.01);transform-origin:right bottom;"><span class="st"></span>615,070</div>
<div class="t " style="right:241.5px;top:362.90px;font:normal normal 12.5px/1 'Liberation Sans',sans-serif;color:#3a3a3c;transform:scaleX(1.01);transform-origin:right bottom;"><span class="st"></span>17</div>
<div class="t " style="right:130px;top:362.90px;font:normal normal 12.5px/1 'Liberation Sans',sans-serif;color:#3a3a3c;transform:scaleX(1.01);transform-origin:right bottom;"><span class="st"></span>5</div>
<div class="t " style="right:15px;top:362.90px;font:normal normal 12.5px/1 'Liberation Sans',sans-serif;color:#3a3a3c;transform:scaleX(1.01);transform-origin:right bottom;"><span class="st"></span>4.0</div>
<div class="r" style="left:5.50px;top:415.69px;width:1184.30px;height:1.1px;background-color:transparent;background-image:repeating-linear-gradient(to right,#85837a 0,#85837a 0.9px,transparent 1.4px,transparent 1.95px,#85837a 2.35px);"></div>
<div class="t " style="left:6.5px;top:382.34px;font:normal normal 12.5px/1 'Liberation Sans',sans-serif;color:#3a3a3c;"><span class="st"></span>2</div>
<div class="t " style="left:39.95px;top:382.34px;font:normal normal 12.5px/1 'Liberation Sans',sans-serif;color:#3a3a3c;transform:scaleX(0.9928);transform-origin:left bottom;"><span class="st"></span>Draycott Eight</div>
<div class="t " style="right:912px;top:382.34px;font:normal normal 12.5px/1 'Liberation Sans',sans-serif;color:#3a3a3c;transform:scaleX(1.01);transform-origin:right bottom;"><span class="st"></span>10</div>
<div class="t " style="right:826.5px;top:382.34px;font:normal normal 12.5px/1 'Liberation Sans',sans-serif;color:#3a3a3c;transform:scaleX(1.01);transform-origin:right bottom;"><span class="st"></span>1,173</div>
<div class="t " style="left:415px;top:382.34px;font:normal normal 12.5px/1 'Liberation Sans',sans-serif;color:#3a3a3c;"><span class="st"></span>May 18</div>
<div class="t " style="right:623px;top:382.34px;font:normal normal 12.5px/1 'Liberation Sans',sans-serif;color:#3a3a3c;transform:scaleX(1.01);transform-origin:right bottom;"><span class="st"></span>1,790</div>
<div class="t " style="left:609.25px;top:382.34px;font:normal normal 12.5px/1 'Liberation Sans',sans-serif;color:#3a3a3c;"><span class="st"></span>Oct 25, 2010</div>
<div class="t " style="right:391.25px;top:382.34px;font:normal normal 12.5px/1 'Liberation Sans',sans-serif;color:#3a3a3c;transform:scaleX(1.01);transform-origin:right bottom;"><span class="st"></span>2,301</div>
<div class="t " style="right:307.5px;top:382.34px;font:normal normal 12.5px/1 'Liberation Sans',sans-serif;color:#3a3a3c;transform:scaleX(1.01);transform-origin:right bottom;"><span class="st"></span>600,000</div>
<div class="t " style="right:241.5px;top:382.34px;font:normal normal 12.5px/1 'Liberation Sans',sans-serif;color:#3a3a3c;transform:scaleX(1.01);transform-origin:right bottom;"><span class="st"></span>22</div>
<div class="t " style="right:130px;top:382.34px;font:normal normal 12.5px/1 'Liberation Sans',sans-serif;color:#3a3a3c;transform:scaleX(1.01);transform-origin:right bottom;"><span class="st"></span>4</div>
<div class="t " style="right:15px;top:382.34px;font:normal normal 12.5px/1 'Liberation Sans',sans-serif;color:#3a3a3c;transform:scaleX(1.01);transform-origin:right bottom;"><span class="st"></span>6.6</div>
<div class="r" style="left:5.50px;top:435.13px;width:1184.30px;height:1.1px;background-color:transparent;background-image:repeating-linear-gradient(to right,#85837a 0,#85837a 0.9px,transparent 1.4px,transparent 1.95px,#85837a 2.35px);"></div>
<div class="t " style="left:6.5px;top:401.78px;font:normal normal 12.5px/1 'Liberation Sans',sans-serif;color:#3a3a3c;"><span class="st"></span>3</div>
<div class="t " style="left:39.95px;top:401.78px;font:normal normal 12.5px/1 'Liberation Sans',sans-serif;color:#3a3a3c;transform:scaleX(0.9708);transform-origin:left bottom;"><span class="st"></span>Icon</div>
<div class="t " style="right:912px;top:401.78px;font:normal normal 12.5px/1 'Liberation Sans',sans-serif;color:#3a3a3c;transform:scaleX(1.01);transform-origin:right bottom;"><span class="st"></span>2</div>
<div class="t " style="right:826.5px;top:401.78px;font:normal normal 12.5px/1 'Liberation Sans',sans-serif;color:#3a3a3c;transform:scaleX(1.01);transform-origin:right bottom;"><span class="st"></span>936</div>
<div class="t " style="left:415px;top:401.78px;font:normal normal 12.5px/1 'Liberation Sans',sans-serif;color:#3a3a3c;"><span class="st"></span>May 19</div>
<div class="t " style="right:623px;top:401.78px;font:normal normal 12.5px/1 'Liberation Sans',sans-serif;color:#3a3a3c;transform:scaleX(1.01);transform-origin:right bottom;"><span class="st"></span>1,612</div>
<div class="t " style="left:609.25px;top:401.78px;font:normal normal 12.5px/1 'Liberation Sans',sans-serif;color:#3a3a3c;"><span class="st"></span>Aug 3, 2011</div>
<div class="t " style="right:391.25px;top:401.78px;font:normal normal 12.5px/1 'Liberation Sans',sans-serif;color:#3a3a3c;transform:scaleX(1.01);transform-origin:right bottom;"><span class="st"></span>2,157</div>
<div class="t " style="right:307.5px;top:401.78px;font:normal normal 12.5px/1 'Liberation Sans',sans-serif;color:#3a3a3c;transform:scaleX(1.01);transform-origin:right bottom;"><span class="st"></span>510,000</div>
<div class="t " style="right:241.5px;top:401.78px;font:normal normal 12.5px/1 'Liberation Sans',sans-serif;color:#3a3a3c;transform:scaleX(1.01);transform-origin:right bottom;"><span class="st"></span>25</div>
<div class="t " style="right:130px;top:401.78px;font:normal normal 12.5px/1 'Liberation Sans',sans-serif;color:#3a3a3c;transform:scaleX(1.01);transform-origin:right bottom;"><span class="st"></span>5</div>
<div class="t " style="right:15px;top:401.78px;font:normal normal 12.5px/1 'Liberation Sans',sans-serif;color:#3a3a3c;transform:scaleX(1.01);transform-origin:right bottom;"><span class="st"></span>5.8</div>
<div class="r" style="left:5.50px;top:454.57px;width:1184.30px;height:1.1px;background-color:transparent;background-image:repeating-linear-gradient(to right,#85837a 0,#85837a 0.9px,transparent 1.4px,transparent 1.95px,#85837a 2.35px);"></div>
<div class="t " style="left:6.5px;top:421.22px;font:normal normal 12.5px/1 'Liberation Sans',sans-serif;color:#3a3a3c;"><span class="st"></span>4</div>
<div class="t " style="left:39.95px;top:421.22px;font:normal normal 12.5px/1 'Liberation Sans',sans-serif;color:#3a3a3c;transform:scaleX(0.9303);transform-origin:left bottom;"><span class="st"></span>St Regis Residences Singapore</div>
<div class="t " style="right:912px;top:421.22px;font:normal normal 12.5px/1 'Liberation Sans',sans-serif;color:#3a3a3c;transform:scaleX(1.01);transform-origin:right bottom;"><span class="st"></span>10</div>
<div class="t " style="right:826.5px;top:421.22px;font:normal normal 12.5px/1 'Liberation Sans',sans-serif;color:#3a3a3c;transform:scaleX(1.01);transform-origin:right bottom;"><span class="st"></span>1,507</div>
<div class="t " style="left:415px;top:421.22px;font:normal normal 12.5px/1 'Liberation Sans',sans-serif;color:#3a3a3c;"><span class="st"></span>May 17</div>
<div class="t " style="right:623px;top:421.22px;font:normal normal 12.5px/1 'Liberation Sans',sans-serif;color:#3a3a3c;transform:scaleX(1.01);transform-origin:right bottom;"><span class="st"></span>2,323</div>
<div class="t " style="left:609.25px;top:421.22px;font:normal normal 12.5px/1 'Liberation Sans',sans-serif;color:#3a3a3c;"><span class="st"></span>June 2, 2009</div>
<div class="t " style="right:391.25px;top:421.22px;font:normal normal 12.5px/1 'Liberation Sans',sans-serif;color:#3a3a3c;transform:scaleX(1.01);transform-origin:right bottom;"><span class="st"></span>2,500</div>
<div class="t " style="right:307.5px;top:421.22px;font:normal normal 12.5px/1 'Liberation Sans',sans-serif;color:#3a3a3c;transform:scaleX(1.01);transform-origin:right bottom;"><span class="st"></span>267,500</div>
<div class="t " style="right:241.5px;top:421.22px;font:normal normal 12.5px/1 'Liberation Sans',sans-serif;color:#3a3a3c;transform:scaleX(1.01);transform-origin:right bottom;"><span class="st"></span>7</div>
<div class="t " style="right:130px;top:421.22px;font:normal normal 12.5px/1 'Liberation Sans',sans-serif;color:#3a3a3c;transform:scaleX(1.01);transform-origin:right bottom;"><span class="st"></span>1</div>
<div class="t " style="right:15px;top:421.22px;font:normal normal 12.5px/1 'Liberation Sans',sans-serif;color:#3a3a3c;transform:scaleX(1.01);transform-origin:right bottom;"><span class="st"></span>8.0</div>
<div class="r" style="left:5.50px;top:474.01px;width:1184.30px;height:1.1px;background-color:transparent;background-image:repeating-linear-gradient(to right,#85837a 0,#85837a 0.9px,transparent 1.4px,transparent 1.95px,#85837a 2.35px);"></div>
<div class="t " style="left:6.5px;top:440.66px;font:normal normal 12.5px/1 'Liberation Sans',sans-serif;color:#3a3a3c;"><span class="st"></span>5</div>
<div class="t " style="left:39.95px;top:440.66px;font:normal normal 12.5px/1 'Liberation Sans',sans-serif;color:#3a3a3c;transform:scaleX(1.0027);transform-origin:left bottom;"><span class="st"></span>The Vermont on Cairnhill</div>
<div class="t " style="right:912px;top:440.66px;font:normal normal 12.5px/1 'Liberation Sans',sans-serif;color:#3a3a3c;transform:scaleX(1.01);transform-origin:right bottom;"><span class="st"></span>9</div>
<div class="t " style="right:826.5px;top:440.66px;font:normal normal 12.5px/1 'Liberation Sans',sans-serif;color:#3a3a3c;transform:scaleX(1.01);transform-origin:right bottom;"><span class="st"></span>883</div>
<div class="t " style="left:415px;top:440.66px;font:normal normal 12.5px/1 'Liberation Sans',sans-serif;color:#3a3a3c;"><span class="st"></span>May 23</div>
<div class="t " style="right:623px;top:440.66px;font:normal normal 12.5px/1 'Liberation Sans',sans-serif;color:#3a3a3c;transform:scaleX(1.01);transform-origin:right bottom;"><span class="st"></span>2,096</div>
<div class="t " style="left:609.25px;top:440.66px;font:normal normal 12.5px/1 'Liberation Sans',sans-serif;color:#3a3a3c;"><span class="st"></span>Oct 9, 2012</div>
<div class="t " style="right:391.25px;top:440.66px;font:normal normal 12.5px/1 'Liberation Sans',sans-serif;color:#3a3a3c;transform:scaleX(1.01);transform-origin:right bottom;"><span class="st"></span>2,345</div>
<div class="t " style="right:307.5px;top:440.66px;font:normal normal 12.5px/1 'Liberation Sans',sans-serif;color:#3a3a3c;transform:scaleX(1.01);transform-origin:right bottom;"><span class="st"></span>220,000</div>
<div class="t " style="right:241.5px;top:440.66px;font:normal normal 12.5px/1 'Liberation Sans',sans-serif;color:#3a3a3c;transform:scaleX(1.01);transform-origin:right bottom;"><span class="st"></span>11</div>
<div class="t " style="right:130px;top:440.66px;font:normal normal 12.5px/1 'Liberation Sans',sans-serif;color:#3a3a3c;transform:scaleX(1.01);transform-origin:right bottom;"><span class="st"></span>2</div>
<div class="t " style="right:15px;top:440.66px;font:normal normal 12.5px/1 'Liberation Sans',sans-serif;color:#3a3a3c;transform:scaleX(1.01);transform-origin:right bottom;"><span class="st"></span>4.6</div>
<div class="r" style="left:5.50px;top:493.45px;width:1184.30px;height:1.1px;background-color:transparent;background-image:repeating-linear-gradient(to right,#85837a 0,#85837a 0.9px,transparent 1.4px,transparent 1.95px,#85837a 2.35px);"></div>
<div class="t " style="left:6.5px;top:460.10px;font:normal normal 12.5px/1 'Liberation Sans',sans-serif;color:#3a3a3c;"><span class="st"></span>6</div>
<div class="t " style="left:39.95px;top:460.10px;font:normal normal 12.5px/1 'Liberation Sans',sans-serif;color:#3a3a3c;transform:scaleX(0.9905);transform-origin:left bottom;"><span class="st"></span>Pearl Bank Apartment</div>
<div class="t " style="right:912px;top:460.10px;font:normal normal 12.5px/1 'Liberation Sans',sans-serif;color:#3a3a3c;transform:scaleX(1.01);transform-origin:right bottom;"><span class="st"></span>3</div>
<div class="t " style="right:826.5px;top:460.10px;font:normal normal 12.5px/1 'Liberation Sans',sans-serif;color:#3a3a3c;transform:scaleX(1.01);transform-origin:right bottom;"><span class="st"></span>1,755</div>
<div class="t " style="left:415px;top:460.10px;font:normal normal 12.5px/1 'Liberation Sans',sans-serif;color:#3a3a3c;"><span class="st"></span>May 17</div>
<div class="t " style="right:623px;top:460.10px;font:normal normal 12.5px/1 'Liberation Sans',sans-serif;color:#3a3a3c;transform:scaleX(1.01);transform-origin:right bottom;"><span class="st"></span>730</div>
<div class="t " style="left:609.25px;top:460.10px;font:normal normal 12.5px/1 'Liberation Sans',sans-serif;color:#3a3a3c;"><span class="st"></span>Aug 1, 2007</div>
<div class="t " style="right:391.25px;top:460.10px;font:normal normal 12.5px/1 'Liberation Sans',sans-serif;color:#3a3a3c;transform:scaleX(1.01);transform-origin:right bottom;"><span class="st"></span>844</div>
<div class="t " style="right:307.5px;top:460.10px;font:normal normal 12.5px/1 'Liberation Sans',sans-serif;color:#3a3a3c;transform:scaleX(1.01);transform-origin:right bottom;"><span class="st"></span>200,000</div>
<div class="t " style="right:241.5px;top:460.10px;font:normal normal 12.5px/1 'Liberation Sans',sans-serif;color:#3a3a3c;transform:scaleX(1.01);transform-origin:right bottom;"><span class="st"></span>14</div>
<div class="t " style="right:130px;top:460.10px;font:normal normal 12.5px/1 'Liberation Sans',sans-serif;color:#3a3a3c;transform:scaleX(1.01);transform-origin:right bottom;"><span class="st"></span>1</div>
<div class="t " style="right:15px;top:460.10px;font:normal normal 12.5px/1 'Liberation Sans',sans-serif;color:#3a3a3c;transform:scaleX(1.01);transform-origin:right bottom;"><span class="st"></span>9.8</div>
<div class="r" style="left:5.50px;top:512.89px;width:1184.30px;height:1.1px;background-color:transparent;background-image:repeating-linear-gradient(to right,#85837a 0,#85837a 0.9px,transparent 1.4px,transparent 1.95px,#85837a 2.35px);"></div>
<div class="t " style="left:6.5px;top:479.54px;font:normal normal 12.5px/1 'Liberation Sans',sans-serif;color:#3a3a3c;"><span class="st"></span>7</div>
<div class="t " style="left:39.95px;top:479.54px;font:normal normal 12.5px/1 'Liberation Sans',sans-serif;color:#3a3a3c;transform:scaleX(0.9388);transform-origin:left bottom;"><span class="st"></span>Sky Green</div>
<div class="t " style="right:912px;top:479.54px;font:normal normal 12.5px/1 'Liberation Sans',sans-serif;color:#3a3a3c;transform:scaleX(1.01);transform-origin:right bottom;"><span class="st"></span>13</div>
<div class="t " style="right:826.5px;top:479.54px;font:normal normal 12.5px/1 'Liberation Sans',sans-serif;color:#3a3a3c;transform:scaleX(1.01);transform-origin:right bottom;"><span class="st"></span>743</div>
<div class="t " style="left:415px;top:479.54px;font:normal normal 12.5px/1 'Liberation Sans',sans-serif;color:#3a3a3c;"><span class="st"></span>May 19</div>
<div class="t " style="right:623px;top:479.54px;font:normal normal 12.5px/1 'Liberation Sans',sans-serif;color:#3a3a3c;transform:scaleX(1.01);transform-origin:right bottom;"><span class="st"></span>1,346</div>
<div class="t " style="left:609.25px;top:479.54px;font:normal normal 12.5px/1 'Liberation Sans',sans-serif;color:#3a3a3c;"><span class="st"></span>Nov 6, 2012</div>
<div class="t " style="right:391.25px;top:479.54px;font:normal normal 12.5px/1 'Liberation Sans',sans-serif;color:#3a3a3c;transform:scaleX(1.01);transform-origin:right bottom;"><span class="st"></span>1,562</div>
<div class="t " style="right:307.5px;top:479.54px;font:normal normal 12.5px/1 'Liberation Sans',sans-serif;color:#3a3a3c;transform:scaleX(1.01);transform-origin:right bottom;"><span class="st"></span>160,300</div>
<div class="t " style="right:241.5px;top:479.54px;font:normal normal 12.5px/1 'Liberation Sans',sans-serif;color:#3a3a3c;transform:scaleX(1.01);transform-origin:right bottom;"><span class="st"></span>14</div>
<div class="t " style="right:130px;top:479.54px;font:normal normal 12.5px/1 'Liberation Sans',sans-serif;color:#3a3a3c;transform:scaleX(1.01);transform-origin:right bottom;"><span class="st"></span>3</div>
<div class="t " style="right:15px;top:479.54px;font:normal normal 12.5px/1 'Liberation Sans',sans-serif;color:#3a3a3c;transform:scaleX(1.01);transform-origin:right bottom;"><span class="st"></span>4.5</div>
<div class="r" style="left:5.50px;top:532.33px;width:1184.30px;height:1.1px;background-color:transparent;background-image:repeating-linear-gradient(to right,#85837a 0,#85837a 0.9px,transparent 1.4px,transparent 1.95px,#85837a 2.35px);"></div>
<div class="t " style="left:6.5px;top:498.98px;font:normal normal 12.5px/1 'Liberation Sans',sans-serif;color:#3a3a3c;"><span class="st"></span>8</div>
<div class="t " style="left:39.95px;top:498.98px;font:normal normal 12.5px/1 'Liberation Sans',sans-serif;color:#3a3a3c;transform:scaleX(0.9708);transform-origin:left bottom;"><span class="st"></span>Icon</div>
<div class="t " style="right:912px;top:498.98px;font:normal normal 12.5px/1 'Liberation Sans',sans-serif;color:#3a3a3c;transform:scaleX(1.01);transform-origin:right bottom;"><span class="st"></span>2</div>
<div class="t " style="right:826.5px;top:498.98px;font:normal normal 12.5px/1 'Liberation Sans',sans-serif;color:#3a3a3c;transform:scaleX(1.01);transform-origin:right bottom;"><span class="st"></span>936</div>
<div class="t " style="left:415px;top:498.98px;font:normal normal 12.5px/1 'Liberation Sans',sans-serif;color:#3a3a3c;"><span class="st"></span>May 17</div>
<div class="t " style="right:623px;top:498.98px;font:normal normal 12.5px/1 'Liberation Sans',sans-serif;color:#3a3a3c;transform:scaleX(1.01);transform-origin:right bottom;"><span class="st"></span>1,719</div>
<div class="t " style="left:609.25px;top:498.98px;font:normal normal 12.5px/1 'Liberation Sans',sans-serif;color:#3a3a3c;"><span class="st"></span>March 6, 2008</div>
<div class="t " style="right:391.25px;top:498.98px;font:normal normal 12.5px/1 'Liberation Sans',sans-serif;color:#3a3a3c;transform:scaleX(1.01);transform-origin:right bottom;"><span class="st"></span>1,874</div>
<div class="t " style="right:307.5px;top:498.98px;font:normal normal 12.5px/1 'Liberation Sans',sans-serif;color:#3a3a3c;transform:scaleX(1.01);transform-origin:right bottom;"><span class="st"></span>145,000</div>
<div class="t " style="right:241.5px;top:498.98px;font:normal normal 12.5px/1 'Liberation Sans',sans-serif;color:#3a3a3c;transform:scaleX(1.01);transform-origin:right bottom;"><span class="st"></span>8</div>
<div class="t " style="right:130px;top:498.98px;font:normal normal 12.5px/1 'Liberation Sans',sans-serif;color:#3a3a3c;transform:scaleX(1.01);transform-origin:right bottom;"><span class="st"></span>1</div>
<div class="t " style="right:15px;top:498.98px;font:normal normal 12.5px/1 'Liberation Sans',sans-serif;color:#3a3a3c;transform:scaleX(1.01);transform-origin:right bottom;"><span class="st"></span>9.2</div>
<div class="r" style="left:5.50px;top:551.77px;width:1184.30px;height:1.1px;background-color:transparent;background-image:repeating-linear-gradient(to right,#85837a 0,#85837a 0.9px,transparent 1.4px,transparent 1.95px,#85837a 2.35px);"></div>
<div class="t " style="left:6.5px;top:518.42px;font:normal normal 12.5px/1 'Liberation Sans',sans-serif;color:#3a3a3c;"><span class="st"></span>9</div>
<div class="t " style="left:39.95px;top:518.42px;font:normal normal 12.5px/1 'Liberation Sans',sans-serif;color:#3a3a3c;transform:scaleX(1.0011);transform-origin:left bottom;"><span class="st"></span>The Clift</div>
<div class="t " style="right:912px;top:518.42px;font:normal normal 12.5px/1 'Liberation Sans',sans-serif;color:#3a3a3c;transform:scaleX(1.01);transform-origin:right bottom;"><span class="st"></span>1</div>
<div class="t " style="right:826.5px;top:518.42px;font:normal normal 12.5px/1 'Liberation Sans',sans-serif;color:#3a3a3c;transform:scaleX(1.01);transform-origin:right bottom;"><span class="st"></span>495</div>
<div class="t " style="left:415px;top:518.42px;font:normal normal 12.5px/1 'Liberation Sans',sans-serif;color:#3a3a3c;"><span class="st"></span>May 16</div>
<div class="t " style="right:623px;top:518.42px;font:normal normal 12.5px/1 'Liberation Sans',sans-serif;color:#3a3a3c;transform:scaleX(1.01);transform-origin:right bottom;"><span class="st"></span>1,959</div>
<div class="t " style="left:609.25px;top:518.42px;font:normal normal 12.5px/1 'Liberation Sans',sans-serif;color:#3a3a3c;"><span class="st"></span>April 4, 2012</div>
<div class="t " style="right:391.25px;top:518.42px;font:normal normal 12.5px/1 'Liberation Sans',sans-serif;color:#3a3a3c;transform:scaleX(1.01);transform-origin:right bottom;"><span class="st"></span>2,249</div>
<div class="t " style="right:307.5px;top:518.42px;font:normal normal 12.5px/1 'Liberation Sans',sans-serif;color:#3a3a3c;transform:scaleX(1.01);transform-origin:right bottom;"><span class="st"></span>143,750</div>
<div class="t " style="right:241.5px;top:518.42px;font:normal normal 12.5px/1 'Liberation Sans',sans-serif;color:#3a3a3c;transform:scaleX(1.01);transform-origin:right bottom;"><span class="st"></span>13</div>
<div class="t " style="right:130px;top:518.42px;font:normal normal 12.5px/1 'Liberation Sans',sans-serif;color:#3a3a3c;transform:scaleX(1.01);transform-origin:right bottom;"><span class="st"></span>3</div>
<div class="t " style="right:15px;top:518.42px;font:normal normal 12.5px/1 'Liberation Sans',sans-serif;color:#3a3a3c;transform:scaleX(1.01);transform-origin:right bottom;"><span class="st"></span>5.1</div>
<div class="r" style="left:5.50px;top:571.21px;width:1184.30px;height:1.1px;background-color:transparent;background-image:repeating-linear-gradient(to right,#85837a 0,#85837a 0.9px,transparent 1.4px,transparent 1.95px,#85837a 2.35px);"></div>
<div class="t " style="left:6.5px;top:537.86px;font:normal normal 12.5px/1 'Liberation Sans',sans-serif;color:#3a3a3c;"><span class="st"></span>10</div>
<div class="t " style="left:39.95px;top:537.86px;font:normal normal 12.5px/1 'Liberation Sans',sans-serif;color:#3a3a3c;transform:scaleX(0.973);transform-origin:left bottom;"><span class="st"></span>Cyan</div>
<div class="t " style="right:912px;top:537.86px;font:normal normal 12.5px/1 'Liberation Sans',sans-serif;color:#3a3a3c;transform:scaleX(1.01);transform-origin:right bottom;"><span class="st"></span>10</div>
<div class="t " style="right:826.5px;top:537.86px;font:normal normal 12.5px/1 'Liberation Sans',sans-serif;color:#3a3a3c;transform:scaleX(1.01);transform-origin:right bottom;"><span class="st"></span>1,130</div>
<div class="t " style="left:415px;top:537.86px;font:normal normal 12.5px/1 'Liberation Sans',sans-serif;color:#3a3a3c;"><span class="st"></span>May 19</div>
<div class="t " style="right:623px;top:537.86px;font:normal normal 12.5px/1 'Liberation Sans',sans-serif;color:#3a3a3c;transform:scaleX(1.01);transform-origin:right bottom;"><span class="st"></span>1,947</div>
<div class="t " style="left:609.25px;top:537.86px;font:normal normal 12.5px/1 'Liberation Sans',sans-serif;color:#3a3a3c;"><span class="st"></span>Dec 12, 2012</div>
<div class="t " style="right:391.25px;top:537.86px;font:normal normal 12.5px/1 'Liberation Sans',sans-serif;color:#3a3a3c;transform:scaleX(1.01);transform-origin:right bottom;"><span class="st"></span>2,064</div>
<div class="t " style="right:307.5px;top:537.86px;font:normal normal 12.5px/1 'Liberation Sans',sans-serif;color:#3a3a3c;transform:scaleX(1.01);transform-origin:right bottom;"><span class="st"></span>133,333</div>
<div class="t " style="right:241.5px;top:537.86px;font:normal normal 12.5px/1 'Liberation Sans',sans-serif;color:#3a3a3c;transform:scaleX(1.01);transform-origin:right bottom;"><span class="st"></span>6</div>
<div class="t " style="right:130px;top:537.86px;font:normal normal 12.5px/1 'Liberation Sans',sans-serif;color:#3a3a3c;transform:scaleX(1.01);transform-origin:right bottom;"><span class="st"></span>1</div>
<div class="t " style="right:15px;top:537.86px;font:normal normal 12.5px/1 'Liberation Sans',sans-serif;color:#3a3a3c;transform:scaleX(1.01);transform-origin:right bottom;"><span class="st"></span>4.4</div>
<div class="t note" style="left:5.6px;top:567.00px;font:italic normal 10.5px/1 'Liberation Sans',sans-serif;color:#2e2e30;transform:scaleX(0.893);transform-origin:left bottom;"><span class="st"></span>Note:  Computed based on URA caveat data as at May 16 for private non-landed houses transacted between May 16 and 23. The profit-and-loss computation excludes transactions costs such as stamp duties.</div>
</div></body></html>
